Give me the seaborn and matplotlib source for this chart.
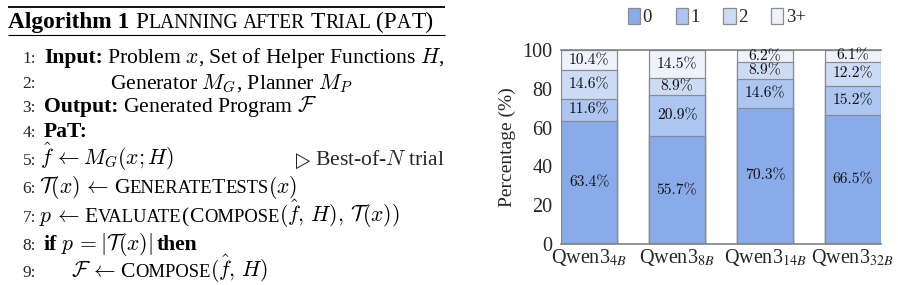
import os
import matplotlib
matplotlib.use("Agg")
import matplotlib.pyplot as plt
from matplotlib.font_manager import FontProperties
from matplotlib.patches import Patch
import seaborn as sns
import numpy as np
import pandas as pd

# ---------------- data ----------------
models = ["Qwen3$_{4B}$", "Qwen3$_{8B}$", "Qwen3$_{14B}$", "Qwen3$_{32B}$"]
series_names = ["0", "1", "2", "3+"]
v0 = [63.4, 55.7, 70.3, 66.5]
v1 = [11.6, 20.9, 14.6, 15.2]
v2 = [14.6, 8.9, 8.9, 12.2]
v3 = [10.4, 14.5, 6.2, 6.1]
yticks = [0, 20, 40, 60, 80, 100]

colors = ["#8aabe9", "#adc5f1", "#cddcf6", "#eef2fb"]
edge = "#8c8c8c"

sns.set_theme(style="white")
plt.rcParams["font.family"] = ["Liberation Serif", "DejaVu Serif"]
plt.rcParams["mathtext.fontset"] = "stix"

fig = plt.figure(figsize=(8.98, 2.85), dpi=100)

# ---------------- algorithm panel ----------------
axA = fig.add_axes([0, 0, 1, 1])
axA.set_xlim(0, 898)
axA.set_ylim(285, 0)
axA.axis("off")
renderer = fig.canvas.get_renderer()

S = 15.6
SC = S * 0.86
NUM = S * 0.8
T = S * 1.08


def runs(x, y, parts):
    for text, kw, gap in parts:
        fp = FontProperties(family=["Liberation Serif"], size=kw.get("size", S),
                            weight=kw.get("weight", "normal"), math_fontfamily="cm")
        t = axA.text(x, y, text, va="baseline", ha="left", fontproperties=fp, color="black")
        bb = t.get_window_extent(renderer)
        x += bb.width + gap
    return x


axA.plot([8, 445], [7, 7], color="black", lw=1.3, solid_capstyle="butt")
axA.plot([8, 445], [35, 35], color="black", lw=0.8, solid_capstyle="butt")

B = {"weight": "bold"}
N = {}
C = {"size": SC}
TB = {"weight": "bold", "size": T}
TN = {"size": T}
TC = {"size": T * 0.84}
sp = 4.5
k0 = 0.4
kt = -0.8

runs(8, 28, [("Algorithm 1", TB, 6),
             ("P", TN, k0), ("LANNING", TC, sp + 0.5), ("AFTER", TC, sp + 0.5),
             ("T", TN, k0), ("RIAL", TC, sp + 0.5), ("(P", TN, k0), ("A", TC, k0), ("T)", TN, 0)])

nums_y = [63, 88, 112, 137, 165, 193, 222, 250, 277]
for i, yy in enumerate(nums_y):
    axA.text(36, yy, f"{i+1}:", ha="right", va="baseline", fontsize=NUM)

runs(44, 63, [("Input:", B, sp), ("Problem $x$, Set of Helper Functions $H$,", N, 0)])
runs(110, 88, [("Generator $M_G$, Planner $M_P$", N, 0)])
runs(44, 112, [("Output:", B, sp), ("Generated Program $\\mathcal{F}$", N, 0)])
runs(44, 137, [("PaT:", B, 0)])
runs(40, 165, [("$\\hat{f}\\,\\leftarrow M_G(x;H)$", N, 0)])
t_r = axA.text(445, 165, "Best-of-$N$ trial", ha="right", va="baseline",
               fontproperties=FontProperties(family=["Liberation Serif"], size=S, math_fontfamily="cm"))
bb_r = t_r.get_window_extent(renderer)
axA.text(bb_r.x0 - 4, 165, "$\\triangleright$", ha="right", va="baseline", fontsize=S * 0.7)
runs(39, 193, [("$\\mathcal{T}(x)\\,\\leftarrow$", N, sp),
               ("G", N, k0), ("ENERATE", C, kt), ("T", N, k0), ("ESTS", C, kt), ("$(x)$", N, 0)])
runs(39, 222, [("$p\\,\\leftarrow$", N, sp),
               ("E", N, k0), ("VALUATE", C, 0.2), ("(", N, 0.2),
               ("C", N, k0), ("OMPOSE", C, kt), ("$(\\hat{f},\\, H),\\, \\mathcal{T}(x))$", N, 0)])
runs(43, 250, [("if", B, sp), ("$p\\,= |\\mathcal{T}(x)|$", N, sp), ("then", B, 0)])
runs(71, 277, [("$\\mathcal{F}\\,\\leftarrow$", N, sp),
               ("C", N, k0), ("OMPOSE", C, kt), ("$(\\hat{f},\\, H)$", N, 0)])

# ---------------- bar chart ----------------
ax = fig.add_axes([561 / 898, 1 - 244 / 285, 320 / 898, 194 / 285])
vals = [v0, v1, v2, v3]
cum = np.cumsum(np.array(vals), axis=0)
df = pd.DataFrame({"model": models})
for k in range(3, -1, -1):
    df["c"] = cum[k]
    sns.barplot(data=df, x="model", y="c", color=colors[k], saturation=1, width=0.64,
                edgecolor=edge, linewidth=0.9, ax=ax, zorder=2)

cm_path = os.path.join(matplotlib.get_data_path(), "fonts", "ttf", "cmr10.ttf")
if os.path.exists(cm_path):
    lab_fp = FontProperties(fname=cm_path, size=11.2)
else:
    lab_fp = FontProperties(family="DejaVu Serif", size=9.5)

for k in range(4):
    bottoms = cum[k] - np.array(vals[k])
    for i in range(4):
        ax.text(i, bottoms[i] + vals[k][i] / 2, f"{vals[k][i]:.1f}%",
                ha="center", va="center", fontproperties=lab_fp, color="#111111",
                zorder=5)

ax.set_xlim(-0.32, 3.32)
ax.set_ylim(0, 100)
ax.set_yticks(yticks)
ax.set_yticklabels([str(t) for t in yticks], fontsize=14.5)
ax.set_xticks(range(4))
ax.set_xticklabels(models, fontsize=14.5)
ax.tick_params(axis="both", length=0)
ax.tick_params(axis="y", pad=6)
ax.tick_params(axis="x", pad=2)
ax.set_xlabel("")
ax.set_ylabel("Percentage (%)", fontsize=14, labelpad=5)
for s in ["left", "right"]:
    ax.spines[s].set_visible(False)
for s in ["top", "bottom"]:
    ax.spines[s].set_color("#808080")
    ax.spines[s].set_linewidth(1.2)
ax.set_facecolor("none")

handles = [Patch(facecolor=colors[k], edgecolor=edge, linewidth=0.9) for k in range(4)]
fig.legend(handles, series_names, loc="center", bbox_to_anchor=(717 / 898, 1 - 17 / 285),
           ncol=4, frameon=False, fontsize=13.5, handlelength=0.65, handleheight=1.0,
           handletextpad=0.15, columnspacing=1.25, borderpad=0)

fig.savefig("out.png", dpi=100)
